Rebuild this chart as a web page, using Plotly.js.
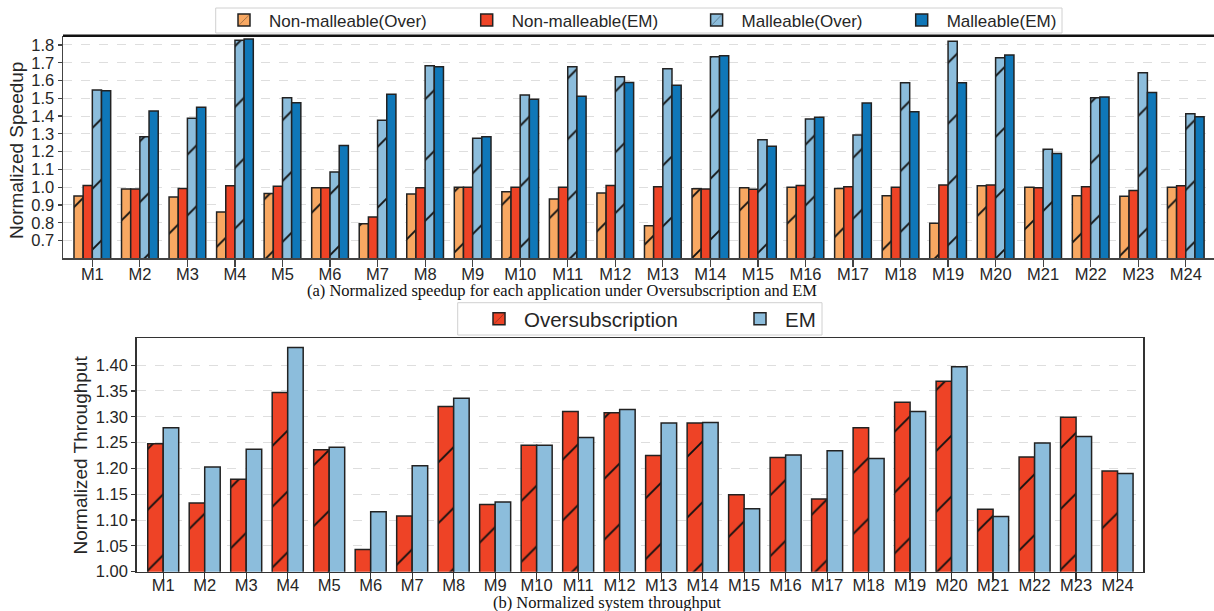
<!DOCTYPE html>
<html>
<head>
<meta charset="utf-8">
<script src="https://cdn.plot.ly/plotly-3.0.1.min.js"></script>
<style>html,body{margin:0;padding:0;background:#fff;}#chart{width:1214px;height:611px;}</style>
</head>
<body>
<div id="chart"></div>
<script>
// ---------- data ----------
const categories = ["M1","M2","M3","M4","M5","M6","M7","M8","M9","M10","M11","M12","M13","M14","M15","M16","M17","M18","M19","M20","M21","M22","M23","M24"];

// (a) Normalized speedup
const nonMalleableOver = [0.950,0.990,0.945,0.860,0.965,0.997,0.795,0.961,1.000,0.974,0.933,0.967,0.783,0.991,0.997,1.000,0.993,0.952,0.797,1.008,0.999,0.952,0.949,0.999];
const nonMalleableEM   = [1.010,0.990,0.993,1.008,1.005,0.997,0.832,0.997,1.000,0.999,1.000,1.010,1.003,0.990,0.988,1.010,1.003,0.999,1.012,1.012,0.997,1.003,0.982,1.008];
const malleableOver    = [1.546,1.283,1.387,1.827,1.503,1.085,1.377,1.683,1.275,1.518,1.677,1.621,1.666,1.733,1.267,1.383,1.293,1.587,1.821,1.728,1.213,1.503,1.643,1.413];
const malleableEM      = [1.542,1.428,1.450,1.833,1.475,1.235,1.522,1.677,1.284,1.494,1.512,1.589,1.574,1.739,1.230,1.394,1.473,1.424,1.587,1.743,1.190,1.507,1.533,1.396];

// (b) Normalized system throughput
const throughputOver = [1.248,1.133,1.179,1.347,1.236,1.043,1.108,1.320,1.130,1.245,1.310,1.308,1.225,1.288,1.149,1.221,1.141,1.279,1.328,1.369,1.121,1.222,1.299,1.195];
const throughputEM   = [1.279,1.203,1.237,1.434,1.241,1.116,1.205,1.336,1.135,1.245,1.260,1.314,1.288,1.289,1.122,1.226,1.234,1.219,1.310,1.397,1.107,1.249,1.262,1.190];

const speedupTicks = [0.7,0.8,0.9,1.0,1.1,1.2,1.3,1.4,1.5,1.6,1.7,1.8];
const throughputTicks = [1.00,1.05,1.10,1.15,1.20,1.25,1.30,1.35,1.40];

// ---------- styling ----------
const W = 1214, H = 611;
const px = v => v / W;
const py = v => 1 - v / H;
const C = {orange:'#F8A862', red:'#EE4326', light:'#8CBDDC', dark:'#0F77B8'};
const edge = {color:'#222222', width:1.5};
const sans = 'Liberation Sans, Arial, Helvetica, sans-serif';
const serif = 'Liberation Serif, Times New Roman, serif';
const txt = '#262626';

const wA = 0.193;   // bar width, subplot (a)
const wB = 0.3735;  // bar width, subplot (b)

function bar(name, y, color, hatched, offset, width, xa, ya, legendId) {
  const marker = {color: color, line: edge};
  if (hatched) marker.pattern = {shape:'/', size:43, solidity:0.045, fgcolor:'#111111',
                                 bgcolor:color, fgopacity:1, fillmode:'replace'};
  return {type:'bar', name:name, x:categories, y:y, marker:marker,
          offset:offset, width:width, xaxis:xa, yaxis:ya, legend:legendId, hoverinfo:'skip'};
}

const traces = [
  bar('Non-malleable(Over)', nonMalleableOver, C.orange, true,  -2*wA, wA, 'x', 'y', 'legend'),
  bar('Non-malleable(EM)',   nonMalleableEM,   C.red,    false, -wA,   wA, 'x', 'y', 'legend2'),
  bar('Malleable(Over)',     malleableOver,    C.light,  true,  0,     wA, 'x', 'y', 'legend3'),
  bar('Malleable(EM)',       malleableEM,      C.dark,   false, wA,    wA, 'x', 'y', 'legend4'),
  bar('Oversubscription',    throughputOver,   C.red,    true,  -wB,   wB, 'x2', 'y2', 'legend5'),
  bar('EM',                  throughputEM,     C.light,  false, 0,     wB, 'x2', 'y2', 'legend6')
];

function leg(xpx, ypx, size) {
  return {x:px(xpx), y:py(ypx), xanchor:'left', yanchor:'middle', orientation:'h',
          bgcolor:'rgba(0,0,0,0)', borderwidth:0, itemwidth:40,
          font:{family:sans, size:size, color:txt}};
}

const tickFont = {family:sans, size:16.5, color:txt};

const layout = {
  width:W, height:H,
  margin:{l:0, r:0, t:0, b:0},
  paper_bgcolor:'#ffffff', plot_bgcolor:'#ffffff',
  barmode:'overlay',
  showlegend:true,
  xaxis:{domain:[px(63), 1], range:[-0.617, 23.594], type:'category',
         showline:true, linecolor:'#444', linewidth:1.5, mirror:false,
         ticks:'outside', ticklen:7, tickwidth:1.2, tickcolor:'#444', ticklabelstandoff:-7,
         tickfont:tickFont, showgrid:false, zeroline:false, anchor:'y', automargin:false},
  yaxis:{domain:[py(258.3), py(35.7)], range:[0.6, 1.852], tickvals:speedupTicks, tickformat:'.1f',
         showline:true, linecolor:'#444', linewidth:1.5,
         ticks:'outside', ticklen:4, tickwidth:1.2, tickcolor:'#444',
         tickfont:tickFont, showgrid:true, gridcolor:'#d6d6d6', gridwidth:0.8, griddash:'dash',
         zeroline:false, anchor:'x', automargin:false},
  xaxis2:{domain:[px(136.7), px(1143.3)], range:[-0.639, 23.62], type:'category',
          showline:true, linecolor:'#333', linewidth:1.5, mirror:true,
          ticks:'outside', ticklen:7, tickwidth:1.2, tickcolor:'#333', ticklabelstandoff:-9,
          tickfont:tickFont, showgrid:false, zeroline:false, anchor:'y2', automargin:false},
  yaxis2:{domain:[py(571.7), py(338.3)], range:[1.0, 1.452], tickvals:throughputTicks, tickformat:'.2f',
          showline:true, linecolor:'#333', linewidth:1.5, mirror:true,
          ticks:'outside', ticklen:4, tickwidth:1.2, tickcolor:'#333',
          tickfont:tickFont, showgrid:true, gridcolor:'#d6d6d6', gridwidth:0.8, griddash:'dash',
          zeroline:false, anchor:'x2', automargin:false},
  legend:  leg(219, 20.5, 17),
  legend2: leg(461.7, 20.5, 17),
  legend3: leg(691.6, 20.5, 17),
  legend4: leg(896.7, 20.5, 17),
  legend5: leg(474, 319, 20.5),
  legend6: leg(735, 319, 20.5),
  shapes:[
    // legend frames
    {type:'rect', xref:'paper', yref:'paper', x0:px(215.7), x1:px(1062), y0:py(33), y1:py(8),
     line:{color:'#d0d0d0', width:1}, fillcolor:'rgba(255,255,255,0.9)', layer:'below'},
    {type:'rect', xref:'paper', yref:'paper', x0:px(457.7), x1:px(822), y0:py(335), y1:py(302.7),
     line:{color:'#d0d0d0', width:1}, fillcolor:'rgba(255,255,255,0.9)', layer:'below'},
    // top frame line of subplot (a)
    {type:'line', xref:'paper', yref:'paper', x0:px(63), x1:1, y0:py(35.7), y1:py(35.7),
     line:{color:'#111', width:2.5}, layer:'above'}
  ],
  annotations:[
    {text:'Normalized Speedup', xref:'paper', yref:'paper', x:px(17), y:py(151), textangle:-90,
     showarrow:false, xanchor:'center', yanchor:'middle', font:{family:sans, size:19, color:txt}},
    {text:'Normalized Throughput', xref:'paper', yref:'paper', x:px(79.5), y:py(455), textangle:-90,
     showarrow:false, xanchor:'center', yanchor:'middle', font:{family:sans, size:19, color:txt}},
    {text:'(a) Normalized speedup for each application under Oversubscription and EM', xref:'paper', yref:'paper',
     x:px(562), y:py(290), showarrow:false, xanchor:'center', yanchor:'middle', font:{family:serif, size:16.5, color:'#111'}},
    {text:'(b) Normalized system throughput', xref:'paper', yref:'paper',
     x:px(607), y:py(602.5), showarrow:false, xanchor:'center', yanchor:'middle', font:{family:serif, size:16.5, color:'#111'}}
  ]
};

Plotly.newPlot('chart', traces, layout, {displayModeBar:false, staticPlot:true});
</script>
</body>
</html>
